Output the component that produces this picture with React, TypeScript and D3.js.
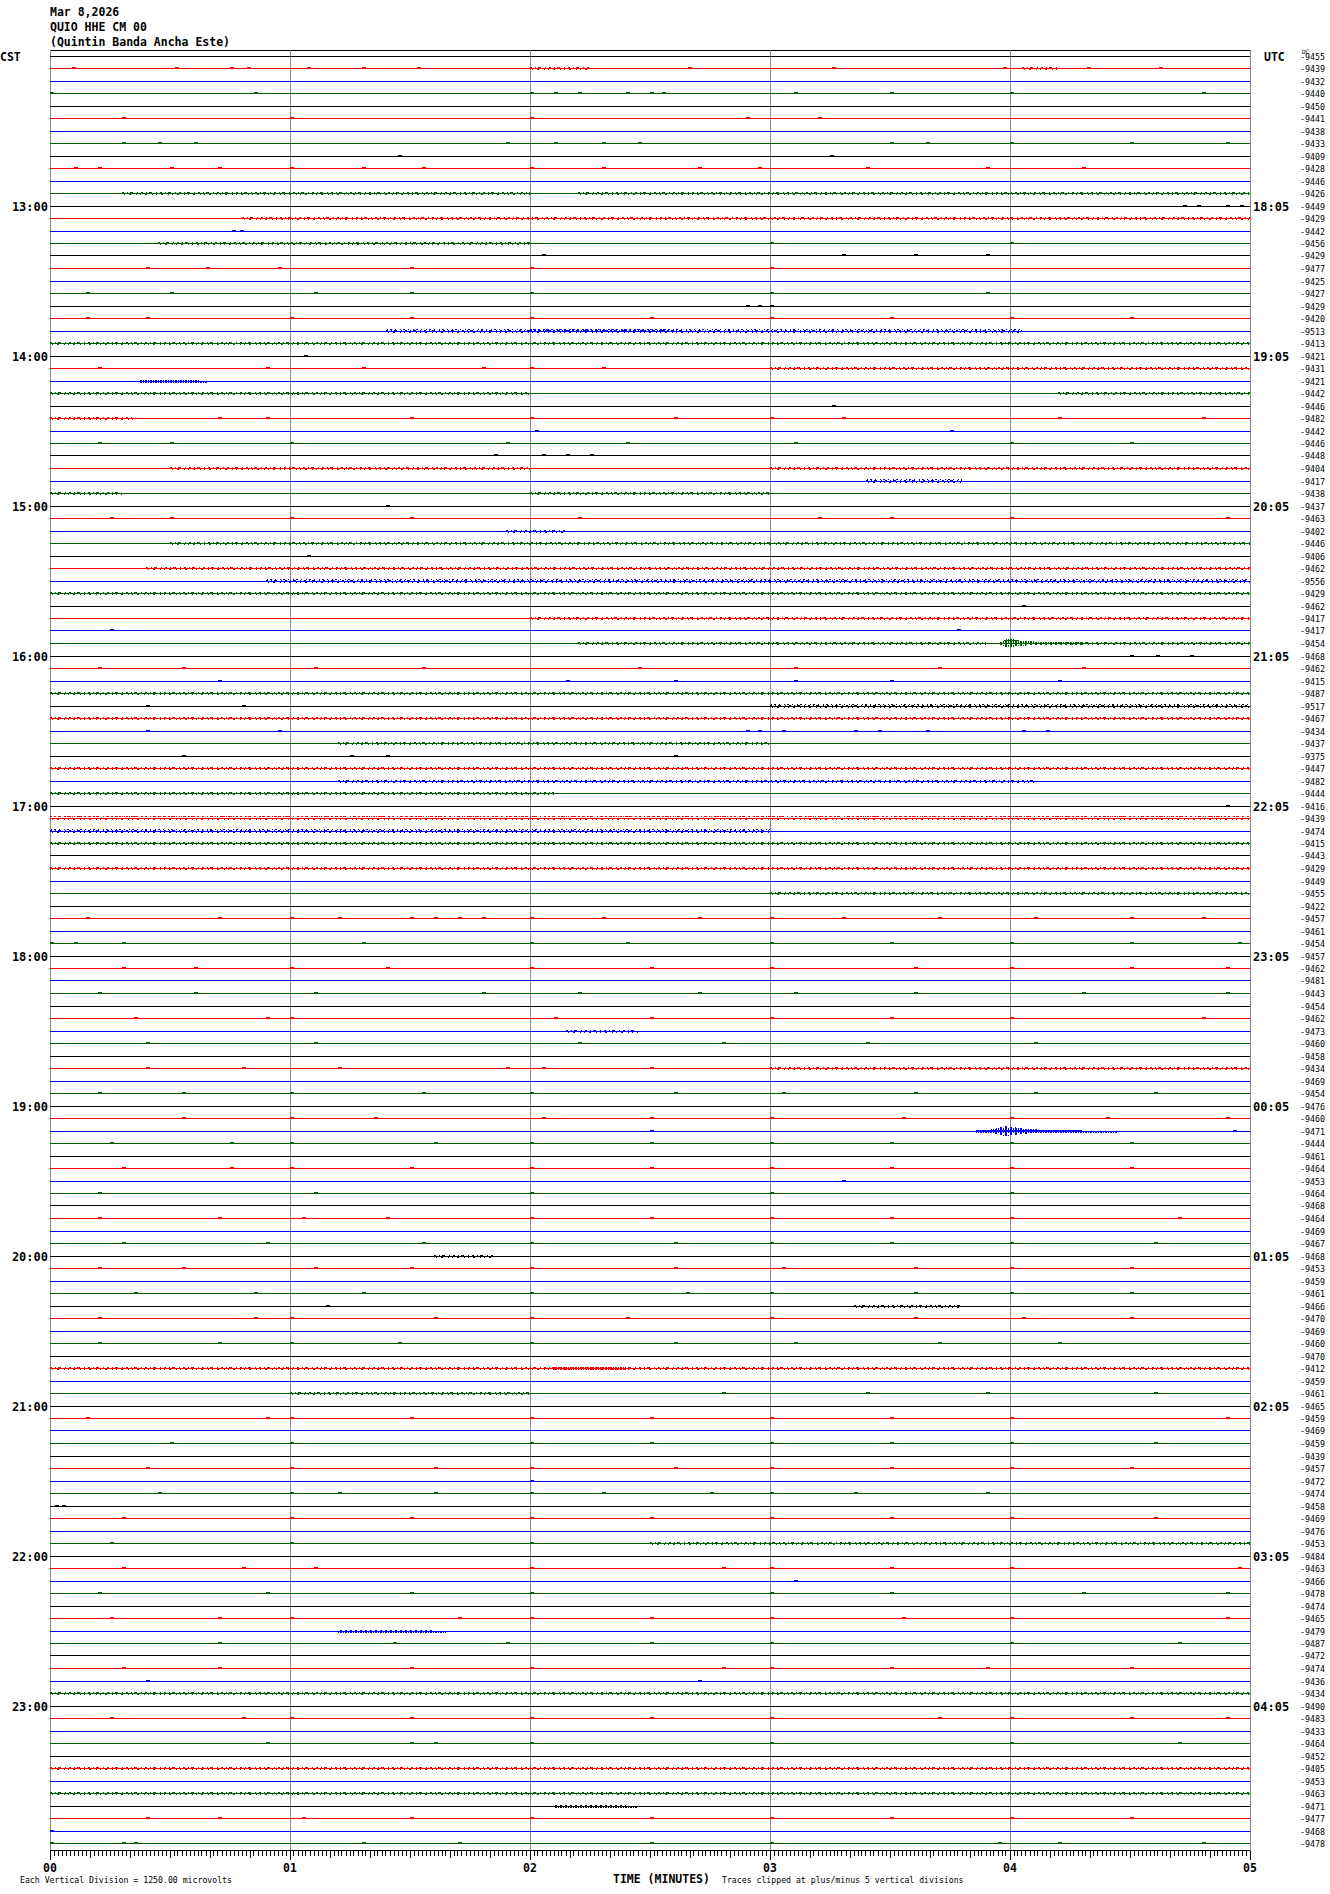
import React from "react";
import * as d3 from "d3";

const W = 1330;
const H = 1894;

const headerLines = ["Mar 8,2026", "QUIO HHE CM 00", "(Quintin Banda Ancha Este)"];
const traceColors = ["#000000", "#ff0000", "#0000ff", "#006400"];
const minuteTicks = ["00", "01", "02", "03", "04", "05"];
const cstHours = ["13:00", "14:00", "15:00", "16:00", "17:00", "18:00", "19:00", "20:00", "21:00", "22:00", "23:00"];
const utcHours = ["18:05", "19:05", "20:05", "21:05", "22:05", "23:05", "00:05", "01:05", "02:05", "03:05", "04:05"];

const traceLabels = [
  -9455, -9439, -9432, -9440, -9450, -9441, -9438, -9433, -9409, -9428, -9446, -9426,
  -9449, -9429, -9442, -9456, -9429, -9477, -9425, -9427, -9429, -9420, -9513, -9413,
  -9421, -9431, -9421, -9442, -9446, -9482, -9442, -9446, -9448, -9404, -9417, -9438,
  -9437, -9463, -9402, -9446, -9406, -9462, -9556, -9429, -9462, -9417, -9417, -9454,
  -9468, -9462, -9415, -9487, -9517, -9467, -9434, -9437, -9375, -9447, -9482, -9444,
  -9416, -9439, -9474, -9415, -9443, -9429, -9449, -9455, -9422, -9457, -9461, -9454,
  -9457, -9462, -9481, -9443, -9454, -9462, -9473, -9460, -9458, -9434, -9469, -9454,
  -9476, -9460, -9471, -9444, -9461, -9464, -9453, -9464, -9468, -9464, -9469, -9467,
  -9468, -9453, -9459, -9461, -9466, -9470, -9469, -9460, -9470, -9412, -9459, -9461,
  -9465, -9459, -9469, -9459, -9439, -9457, -9472, -9474, -9458, -9469, -9476, -9453,
  -9484, -9463, -9466, -9478, -9474, -9465, -9479, -9487, -9472, -9474, -9436, -9434,
  -9490, -9483, -9433, -9464, -9452, -9405, -9453, -9463, -9471, -9477, -9468, -9478,
];

// [trace, startMinute, endMinute, halfAmplitude (divisions)]
const noiseBands: [number, number, number, number][] = [
  [1, 2.0, 2.26, 0.08], [1, 4.05, 4.2, 0.06],
  [11, 0.3, 2.0, 0.07], [11, 2.2, 5.0, 0.06],
  [13, 0.8, 5.0, 0.08],
  [15, 0.45, 2.0, 0.07],
  [22, 1.4, 4.05, 0.09], [22, 2.0, 2.6, 0.12],
  [23, 0.0, 5.0, 0.05],
  [25, 3.0, 5.0, 0.07],
  [27, 0.0, 2.0, 0.06], [27, 4.2, 5.0, 0.06],
  [29, 0.0, 0.35, 0.07],
  [33, 0.5, 2.0, 0.06], [33, 3.0, 5.0, 0.08],
  [34, 3.4, 3.8, 0.09],
  [35, 0.0, 0.3, 0.08], [35, 2.0, 3.0, 0.07],
  [38, 1.9, 2.15, 0.08],
  [39, 0.5, 5.0, 0.05],
  [41, 0.4, 5.0, 0.06],
  [42, 0.9, 5.0, 0.09],
  [43, 0.0, 5.0, 0.05],
  [45, 2.0, 5.0, 0.07],
  [47, 2.2, 3.9, 0.06], [47, 4.2, 5.0, 0.06],
  [51, 0.0, 5.0, 0.08],
  [52, 3.0, 5.0, 0.1],
  [53, 0.0, 5.0, 0.07],
  [55, 1.2, 3.0, 0.08],
  [57, 0.0, 5.0, 0.06],
  [58, 1.2, 4.1, 0.07],
  [59, 0.0, 2.1, 0.07],
  [61, 0.0, 5.0, 0.13],
  [62, 0.0, 3.0, 0.09],
  [63, 0.0, 5.0, 0.07],
  [65, 0.0, 5.0, 0.06],
  [67, 3.0, 5.0, 0.06],
  [78, 2.15, 2.45, 0.08],
  [81, 3.0, 5.0, 0.06],
  [96, 1.6, 1.85, 0.08],
  [100, 3.35, 3.8, 0.08],
  [105, 0.0, 5.0, 0.07],
  [107, 1.0, 2.0, 0.06],
  [119, 2.5, 5.0, 0.06],
  [131, 0.0, 5.0, 0.06],
  [137, 0.0, 5.0, 0.08],
  [139, 0.0, 5.0, 0.05],
];

// seismic events: [trace, envelope points [minute, halfAmplitude (divisions)]]
const events: [number, [number, number][]][] = [
  [26, [[0.37, 0.05], [0.42, 0.1], [0.48, 0.13], [0.55, 0.1], [0.62, 0.07], [0.66, 0.04]]],
  [47, [[3.96, 0.08], [3.98, 0.3], [4.0, 0.4], [4.03, 0.25], [4.1, 0.16], [4.2, 0.1], [4.3, 0.06]]],
  [86, [[3.86, 0.05], [3.92, 0.16], [3.96, 0.32], [3.98, 0.48], [4.0, 0.4], [4.05, 0.24], [4.15, 0.12], [4.3, 0.07], [4.45, 0.04]]],
  [105, [[2.1, 0.06], [2.18, 0.14], [2.25, 0.12], [2.32, 0.09], [2.4, 0.05]]],
  [126, [[1.2, 0.05], [1.3, 0.1], [1.4, 0.12], [1.5, 0.1], [1.6, 0.07], [1.65, 0.04]]],
  [140, [[2.1, 0.05], [2.2, 0.09], [2.3, 0.09], [2.4, 0.07], [2.45, 0.04]]],
];

// small step blips: [trace, minutes]
const blips: [number, number[]][] = [
  [1, [0.09, 0.52, 0.75, 0.82, 1.07, 1.3, 1.53, 2.66, 3.26, 3.97, 4.32, 4.62]],
  [3, [0.0, 0.85, 2.0, 2.1, 2.2, 2.4, 2.5, 2.55, 3.1, 3.5, 4.0, 4.8]],
  [5, [0.3, 1.0, 2.0, 2.9, 3.2]],
  [7, [0.3, 0.45, 0.6, 1.9, 2.1, 2.3, 2.45, 3.5, 3.65, 4.0, 4.5, 4.9]],
  [8, [1.45, 3.25]],
  [9, [0.1, 0.2, 0.5, 0.7, 1.0, 1.3, 1.55, 2.0, 2.3, 2.7, 2.95, 3.4, 3.9, 4.3]],
  [12, [4.72, 4.78, 4.9, 4.96]],
  [14, [0.76, 0.79]],
  [15, [3.0, 4.0]],
  [16, [2.05, 3.3, 3.6, 3.9]],
  [17, [0.4, 0.65, 0.95, 1.5, 2.0, 3.0]],
  [19, [0.15, 0.5, 1.1, 1.5, 2.0, 3.0, 3.9]],
  [20, [2.9, 2.95, 3.0]],
  [21, [0.15, 0.4, 1.0, 1.5, 2.0, 2.5, 3.0, 3.5, 4.0, 4.5]],
  [24, [1.06]],
  [25, [0.2, 0.9, 1.3, 1.8, 2.0, 2.3]],
  [28, [3.26]],
  [29, [0.7, 0.9, 1.5, 2.0, 2.6, 3.0, 3.3, 4.2, 4.8]],
  [30, [2.02, 3.75]],
  [31, [0.2, 0.5, 1.0, 1.9, 2.4, 3.1, 4.0, 4.5]],
  [32, [1.85, 2.05, 2.15, 2.25]],
  [36, [1.4]],
  [37, [0.25, 0.5, 1.0, 1.5, 2.2, 3.2, 3.5, 4.0, 4.9]],
  [40, [1.07]],
  [44, [4.05]],
  [46, [0.25, 3.78]],
  [48, [4.5, 4.61, 4.75]],
  [49, [0.2, 0.55, 1.1, 1.55, 2.45, 3.1, 3.7, 4.3]],
  [50, [0.7, 2.15, 2.6, 3.1, 3.5, 4.2]],
  [52, [0.4, 0.8]],
  [54, [0.4, 0.95, 2.9, 2.95, 3.05, 3.35, 3.45, 3.65, 4.05, 4.15]],
  [56, [0.55, 1.25, 1.4, 2.6]],
  [60, [4.9]],
  [69, [0.15, 0.7, 1.0, 1.2, 1.5, 1.6, 1.7, 1.8, 2.0, 2.3, 2.7, 3.0, 3.3, 3.7, 4.1, 4.5, 4.8]],
  [71, [0.0, 0.1, 0.3, 1.3, 2.0, 2.4, 3.0, 3.5, 4.0, 4.5, 4.95]],
  [73, [0.3, 0.6, 1.0, 1.4, 2.0, 2.5, 3.0, 3.6, 4.0, 4.5, 4.9]],
  [75, [0.2, 0.6, 1.1, 1.8, 2.2, 2.7, 3.1, 3.6, 4.3, 4.9]],
  [77, [0.35, 0.9, 1.0, 2.1, 2.5, 3.0, 3.5, 4.0, 4.8]],
  [79, [0.4, 1.1, 2.2, 2.8, 3.4, 4.1]],
  [81, [0.4, 0.8, 1.2, 1.9, 2.05, 2.5]],
  [83, [0.2, 0.55, 1.0, 1.55, 2.0, 2.6, 3.05, 3.6, 4.1, 4.6]],
  [85, [0.55, 1.0, 1.35, 2.05, 2.5, 3.0, 3.55, 4.0, 4.4, 4.9]],
  [86, [2.5, 4.93]],
  [87, [0.25, 0.75, 1.0, 1.6, 2.0, 2.5, 3.0, 3.5, 4.0, 4.5]],
  [89, [0.3, 0.75, 1.0, 1.5, 2.0, 2.5, 3.0, 3.5, 4.0, 4.5]],
  [90, [3.3]],
  [91, [0.2, 1.1, 2.0, 3.0, 4.0]],
  [93, [0.2, 0.7, 1.05, 1.4, 2.0, 2.5, 3.0, 3.5, 4.0, 4.7]],
  [95, [0.3, 0.9, 1.55, 2.0, 2.6, 3.0, 3.5, 4.0, 4.6]],
  [97, [0.2, 0.55, 1.1, 1.5, 2.0, 2.6, 3.05, 3.6, 4.0, 4.5]],
  [99, [0.35, 0.85, 1.3, 2.0, 2.65, 3.0, 3.6, 4.0, 4.5]],
  [100, [1.15]],
  [101, [0.2, 0.85, 1.0, 1.6, 2.0, 2.4, 3.0, 3.6, 4.05, 4.5]],
  [103, [0.2, 0.7, 1.0, 1.45, 2.0, 2.6, 3.1, 3.7, 4.2]],
  [107, [2.8, 3.4, 3.9, 4.6]],
  [109, [0.15, 0.9, 1.0, 1.5, 2.0, 2.5, 3.0, 3.5, 4.0, 4.9]],
  [111, [0.5, 1.0, 2.0, 2.5, 3.0, 3.5, 4.0, 4.6]],
  [113, [0.4, 1.0, 1.6, 2.0, 2.6, 3.0, 3.5, 4.0, 4.5]],
  [114, [2.0]],
  [115, [0.45, 1.0, 1.2, 1.6, 2.0, 2.3, 2.75, 3.0, 3.35, 3.9]],
  [116, [0.02, 0.05]],
  [117, [0.3, 1.0, 1.5, 2.0, 2.5, 3.0, 3.5, 4.0, 4.6]],
  [119, [0.25, 1.0, 2.0]],
  [121, [0.3, 0.8, 1.1, 2.0, 2.8, 3.0, 3.5, 4.0, 4.95]],
  [122, [3.1]],
  [123, [0.2, 0.9, 1.5, 2.0, 3.0, 3.5, 4.3, 4.9]],
  [125, [0.25, 0.7, 1.0, 1.7, 2.0, 2.5, 3.0, 3.55, 4.0, 4.9]],
  [127, [0.7, 1.43, 1.9, 2.5, 3.0, 4.0, 4.7]],
  [129, [0.3, 0.7, 1.5, 2.0, 2.8, 3.0, 3.5, 3.9, 4.5]],
  [130, [0.4, 2.7]],
  [133, [0.25, 0.8, 1.0, 1.5, 2.0, 2.5, 3.0, 3.7, 4.0, 4.5, 4.9]],
  [135, [0.9, 1.5, 1.6, 2.0, 3.0, 4.0, 4.7]],
  [141, [0.4, 0.7, 1.05, 1.5, 2.0, 2.5, 3.0, 3.5, 4.0, 4.5]],
  [142, [0.0]],
  [143, [0.0, 0.3, 0.35, 1.3, 1.7, 2.5, 3.0, 3.95, 4.2, 4.8]],
];

const MONO = "'DejaVu Sans Mono', monospace";

export default function App() {
  const nTraces = traceLabels.length;
  const x = d3.scaleLinear().domain([0, 5]).range([50, 1250]);
  const yRaw = d3.scaleLinear().domain([0, 144]).range([56, 1856]);
  const y = (i: number) => Math.floor(yRaw(i)) + 0.5;
  const amp = d3.scaleLinear().domain([0, 1]).range([0, 12.5]);
  const color = (i: number) => traceColors[i % 4];
  const axisY = 1850.5;

  const secTicks = d3.range(0, 301);

  const eventPath = (tr: number, pts: [number, number][]) =>
    d3
      .area<[number, number]>()
      .x((d) => x(d[0]))
      .y0((d) => y(tr) + Math.max(1, amp(d[1]) * 0.8))
      .y1((d) => y(tr) - Math.max(1, amp(d[1])))
      .curve(d3.curveLinear)(pts) || "";

  return (
    <svg
      width={W}
      height={H}
      viewBox={`0 0 ${W} ${H}`}
      style={{ position: "absolute", left: 0, top: 0, background: "#fff" }}
    >
      <defs>
        <mask id="stripes" maskUnits="userSpaceOnUse" x={0} y={0} width={W} height={H}>
          <rect x={0} y={0} width={W} height={H} fill="url(#stripePat)" />
        </mask>
        <pattern id="stripePat" patternUnits="userSpaceOnUse" x={0} y={0} width={5} height={7}>
          <rect x={0} y={0} width={2} height={7} fill="#fff" />
          <rect x={3} y={1} width={1} height={5} fill="#fff" />
          <rect x={2} y={3} width={3} height={1} fill="#fff" />
        </pattern>
      </defs>
      <rect x={0} y={0} width={W} height={H} fill="#fff" />
      {/* header */}
      {headerLines.map((t, k) => (
        <text key={k} x={50} y={16 + k * 14.8} fontFamily={MONO} fontWeight="bold" fontSize={11.5} fill="#000">
          {t}
        </text>
      ))}
      <text x={0} y={60.5} fontFamily={MONO} fontWeight="bold" fontSize={11.5}>CST</text>
      <text x={1264} y={60.5} fontFamily={MONO} fontWeight="bold" fontSize={11.5}>UTC</text>

      {/* top border */}
      <line x1={x(0)} x2={x(5)} y1={50.5} y2={50.5} stroke="#000" strokeWidth={1} shapeRendering="crispEdges" />

      {/* minute grid lines */}
      {minuteTicks.map((_, m) => (
        <line key={m} x1={Math.floor(x(m)) + 0.5} x2={Math.floor(x(m)) + 0.5} y1={50} y2={axisY}
          stroke="#888" strokeWidth={1} shapeRendering="crispEdges" />
      ))}

      {/* traces */}
      {d3.range(nTraces).map((i) => (
        <line key={i} x1={x(0)} x2={x(5)} y1={y(i)} y2={y(i)} stroke={color(i)} strokeWidth={1} shapeRendering="crispEdges" />
      ))}

      {/* noise bands: upper and lower jitter */}
      {noiseBands.map(([tr, t0, t1, a], k) => (
        <g key={"n" + k}>
          <line x1={x(t0)} x2={x(t1)} y1={y(tr) - Math.max(1, amp(a))} y2={y(tr) - Math.max(1, amp(a))} stroke={color(tr)}
            strokeWidth={1} strokeDasharray="2 3 1 2 3 4 1 3" shapeRendering="crispEdges" />
          <line x1={x(t0) + 2} x2={x(t1)} y1={y(tr) + Math.max(1, amp(a) * 0.7)} y2={y(tr) + Math.max(1, amp(a) * 0.7)} stroke={color(tr)}
            strokeWidth={1} strokeDasharray="1 4 2 5 1 3" shapeRendering="crispEdges" />
          {a >= 0.09 ? (
            <line x1={x(t0) + 1} x2={x(t1)} y1={y(tr) - 2} y2={y(tr) - 2} stroke={color(tr)}
              strokeWidth={1} strokeDasharray="1 2 2 3 1 4" shapeRendering="crispEdges" />
          ) : null}
        </g>
      ))}

      {/* events */}
      {events.map(([tr, pts], k) => (
        <path key={"e" + k} d={eventPath(tr, pts)} fill={color(tr)} mask="url(#stripes)" shapeRendering="crispEdges" />
      ))}

      {/* blips */}
      {blips.map(([tr, ts]) =>
        ts.map((t, k) => (
          <rect key={tr + "-" + k} x={Math.round(x(t))} y={Math.floor(yRaw(tr)) - 1} width={4} height={2}
            fill={color(tr)} shapeRendering="crispEdges" />
        ))
      )}

      {/* left hour labels */}
      {cstHours.map((h, k) => (
        <text key={h} x={48} y={y((k + 1) * 12) + 4.5} textAnchor="end" fontFamily={MONO} fontWeight="bold" fontSize={12}>
          {h}
        </text>
      ))}
      {/* right hour labels */}
      {utcHours.map((h, k) => (
        <text key={h} x={1253} y={y((k + 1) * 12) + 4.5} fontFamily={MONO} fontWeight="bold" fontSize={12}>
          {h}
        </text>
      ))}
      {/* right trace labels */}
      {traceLabels.map((v, i) => (
        <text key={"l" + i} x={1300} y={y(i) + 3} fontFamily={MONO} fontSize={8.3} fill="#000">
          {String(v)}
        </text>
      ))}
      <text x={1302} y={54} fontFamily={MONO} fontSize={6} fill="#000">DC</text>

      {/* time axis */}
      <line x1={x(0)} x2={x(5)} y1={axisY} y2={axisY} stroke="#000" strokeWidth={1} shapeRendering="crispEdges" />
      {secTicks.map((s) => {
        const len = s % 60 === 0 ? 9 : s % 10 === 0 ? 7 : 5;
        const xx = Math.floor(x(s / 60)) + 0.5;
        return <line key={"t" + s} x1={xx} x2={xx} y1={axisY} y2={axisY + len} stroke="#000" strokeWidth={1} shapeRendering="crispEdges" />;
      })}
      {minuteTicks.map((lab, m) => (
        <text key={"m" + m} x={x(m)} y={1872} textAnchor="middle" fontFamily={MONO} fontWeight="bold" fontSize={11.5}>
          {lab}
        </text>
      ))}
      <text x={20} y={1883} fontFamily={MONO} fontSize={8.2}>Each Vertical Division = 1250.00 microvolts</text>
      <text x={613} y={1883} fontFamily={MONO} fontWeight="bold" fontSize={11.5}>TIME (MINUTES)</text>
      <text x={722} y={1883} fontFamily={MONO} fontSize={8.2}>Traces clipped at plus/minus 5 vertical divisions</text>
    </svg>
  );
}
